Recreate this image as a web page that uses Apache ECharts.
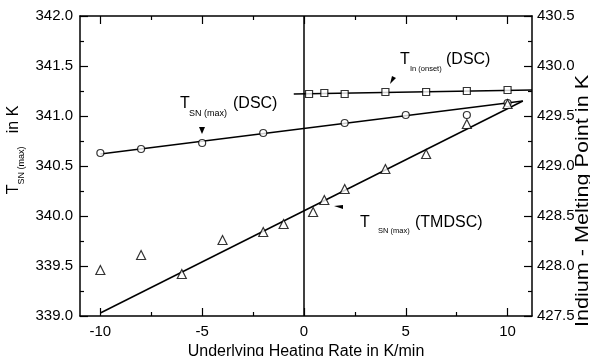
<!DOCTYPE html>
<html>
<head>
<meta charset="utf-8">
<script src="https://cdn.jsdelivr.net/npm/echarts@6/dist/echarts.min.js"></script>
<style>
  html, body { margin: 0; padding: 0; background: #fff; }
  #chart { width: 590px; height: 356px; }
</style>
</head>
<body>
<div id="chart"></div>
<script>
// Heating-rate axis
const xTicks = [-10, -5, 0, 5, 10];
const xMinorTicks = [-7.5, -2.5, 2.5, 7.5];

// T_SN(max) measured by DSC (left axis, K)
const dscRate = [-10, -8, -5, -2, 2, 5, 8, 10];
const dscTemp = [340.63, 340.67, 340.73, 340.83, 340.93, 341.01, 341.01, 341.13];
const dscFitRate = [-10, 10.75];
const dscFitTemp = [340.62, 341.15];

// Indium onset (right axis, K)
const inRate = [0.25, 1, 2, 4, 6, 8, 10];
const inTemp = [429.72, 429.73, 429.72, 429.74, 429.74, 429.75, 429.76];
const inFitRate = [-0.5, 11.2];
const inFitTemp = [429.72, 429.76];

// T_SN(max) measured by TMDSC (left axis, K)
const tmRate = [-10, -8, -6, -4, -2, -1, 0.45, 1, 2, 4, 6, 8, 10];
const tmTemp = [339.46, 339.61, 339.42, 339.76, 339.84, 339.92, 340.04, 340.16, 340.27, 340.47, 340.62, 340.92, 341.12];
const tmFitRate = [-10, 10.75];
const tmFitTemp = [339.03, 341.15];

const zeroRate = 0;

const FONT = '"Liberation Sans", Arial, Helvetica, sans-serif';
const zip = (xs, ys) => xs.map((x, i) => [x, ys[i]]);

const measureCtx = document.createElement('canvas').getContext('2d');
function textWidth(str, size) {
  measureCtx.font = size + 'px ' + FONT;
  return measureCtx.measureText(str).width;
}

// Text made of pieces with their own size and vertical shift (for subscripts).
// A piece may carry its own x offset; otherwise it follows the previous one.
function pieceLabel(x, y, pieces, rotation, centered, stretch) {
  const total = pieces.reduce((s, p) => s + textWidth(p.text, p.size), 0);
  let cx = centered ? -total / 2 : 0;
  const children = pieces.map(p => {
    if (p.x !== undefined) cx = p.x;
    const el = {
      type: 'text', x: cx, y: p.dy || 0,
      style: { text: p.text, font: p.size + 'px ' + FONT, fill: '#000',
               align: 'left', verticalAlign: 'middle' }
    };
    cx += textWidth(p.text, p.size);
    return el;
  });
  return { type: 'group', x: x, y: y, rotation: rotation || 0,
           scaleX: stretch || 1, scaleY: 1, children: children };
}

function wedge(points) {
  return { type: 'polygon', shape: { points: points }, style: { fill: '#000' }, silent: true };
}

const chart = echarts.init(document.getElementById('chart'), null, { renderer: 'canvas' });

const lineCol = '#000';
const xBase = { type: 'value', min: -11, max: 11.2, gridIndex: 0, splitLine: { show: false } };

const option = {
  animation: false,
  backgroundColor: '#fff',
  grid: { left: 80, right: 58, top: 16, bottom: 40, containLabel: false, outerBoundsMode: 'none' },
  xAxis: [
    Object.assign({}, xBase, {
      position: 'bottom',
      axisLine: { show: true, onZero: false, lineStyle: { color: lineCol, width: 1.5 } },
      axisTick: { show: true, inside: true, length: 8, customValues: xTicks, lineStyle: { color: lineCol, width: 1.2 } },
      axisLabel: { show: true, customValues: xTicks, margin: 8, color: '#000', fontSize: 15, fontFamily: FONT,
                   formatter: v => String(v) },
      name: 'Underlying Heating Rate in K/min', nameLocation: 'middle', nameGap: 23,
      nameTextStyle: { color: '#000', fontSize: 16, fontFamily: FONT }
    }),
    Object.assign({}, xBase, {
      position: 'bottom',
      axisLine: { show: false, onZero: false },
      axisTick: { show: true, inside: true, length: 4, customValues: xMinorTicks, lineStyle: { color: lineCol, width: 1.2 } },
      axisLabel: { show: false }
    }),
    Object.assign({}, xBase, {
      position: 'top',
      axisLine: { show: true, onZero: false, lineStyle: { color: lineCol, width: 1.5 } },
      axisTick: { show: true, inside: true, length: 8, customValues: xTicks, lineStyle: { color: lineCol, width: 1.2 } },
      axisLabel: { show: false }
    }),
    Object.assign({}, xBase, {
      position: 'top',
      axisLine: { show: false, onZero: false },
      axisTick: { show: true, inside: true, length: 4, customValues: xMinorTicks, lineStyle: { color: lineCol, width: 1.2 } },
      axisLabel: { show: false }
    })
  ],
  yAxis: [
    {
      type: 'value', position: 'left', min: 339, max: 342, interval: 0.5,
      splitLine: { show: false },
      axisLine: { show: true, onZero: false, lineStyle: { color: lineCol, width: 1.5 } },
      axisTick: { show: true, inside: true, length: 8, lineStyle: { color: lineCol, width: 1.2 } },
      minorTick: { show: true, splitNumber: 2, length: 4, lineStyle: { color: lineCol, width: 1.2 } },
      axisLabel: { margin: 7, color: '#000', fontSize: 15, fontFamily: FONT, formatter: v => v.toFixed(1) }
    },
    {
      type: 'value', position: 'right', min: 427.5, max: 430.5, interval: 0.5,
      splitLine: { show: false },
      axisLine: { show: true, onZero: false, lineStyle: { color: lineCol, width: 1.5 } },
      axisTick: { show: true, inside: true, length: 8, lineStyle: { color: lineCol, width: 1.2 } },
      minorTick: { show: true, splitNumber: 2, length: 4, lineStyle: { color: lineCol, width: 1.2 } },
      axisLabel: { margin: 5, color: '#000', fontSize: 15, fontFamily: FONT, formatter: v => v.toFixed(1) }
    }
  ],
  series: [
    {
      name: 'fit DSC', type: 'line', data: zip(dscFitRate, dscFitTemp), symbol: 'none',
      lineStyle: { color: lineCol, width: 1.5 }, z: 2, silent: true,
      markLine: {
        silent: true, symbol: ['none', 'none'], label: { show: false },
        lineStyle: { color: lineCol, width: 1.5, type: 'solid' },
        data: [{ xAxis: zeroRate }]
      }
    },
    {
      name: 'fit In', type: 'line', yAxisIndex: 1, data: zip(inFitRate, inFitTemp), symbol: 'none',
      lineStyle: { color: lineCol, width: 1.5 }, z: 2, silent: true
    },
    {
      name: 'fit TMDSC', type: 'line', data: zip(tmFitRate, tmFitTemp), symbol: 'none',
      lineStyle: { color: lineCol, width: 1.5 }, z: 2, silent: true
    },
    {
      name: 'DSC', type: 'scatter', data: zip(dscRate, dscTemp), symbol: 'circle', symbolSize: 7,
      itemStyle: { color: '#fff', borderColor: lineCol, borderWidth: 1.2 }, z: 5
    },
    {
      name: 'In onset', type: 'scatter', yAxisIndex: 1, data: zip(inRate, inTemp), symbol: 'rect', symbolSize: 7,
      itemStyle: { color: '#fff', borderColor: lineCol, borderWidth: 1.2 }, z: 5
    },
    {
      name: 'TMDSC', type: 'scatter', data: zip(tmRate, tmTemp), symbol: 'triangle', symbolSize: 9,
      itemStyle: { color: '#fff', borderColor: lineCol, borderWidth: 1.2 }, z: 5
    }
  ],
  graphic: [
    // left axis title
    pieceLabel(14, 150, [
      { text: 'T', size: 16 },
      { text: 'SN (max)', size: 9, dy: 8 },
      { text: '   in K', size: 16 }
    ], Math.PI / 2, true),
    // right axis title (long, slightly stretched along its reading direction)
    pieceLabel(583, 201, [
      { text: 'Indium - Melting Point in K', size: 18 }
    ], Math.PI / 2, true, 1.2),
    // series annotations
    pieceLabel(180, 104, [
      { text: 'T', size: 16, x: 0 },
      { text: 'SN (max)', size: 9, dy: 10, x: 9 },
      { text: '(DSC)', size: 16, x: 53 }
    ], 0, false),
    pieceLabel(400, 60, [
      { text: 'T', size: 16, x: 0 },
      { text: 'In (onset)', size: 7.5, dy: 9, x: 10 },
      { text: '(DSC)', size: 16, x: 46 }
    ], 0, false),
    pieceLabel(360, 223, [
      { text: 'T', size: 16, x: 0 },
      { text: 'SN (max)', size: 7.5, dy: 8, x: 18 },
      { text: '(TMDSC)', size: 16, x: 55 }
    ], 0, false),
    wedge([[199, 127], [205, 127], [202, 134]]),
    wedge([[392, 76], [396, 78], [390, 84]]),
    wedge([[343, 205], [343, 209], [334, 206]])
  ]
};

chart.setOption(option);
</script>
</body>
</html>
